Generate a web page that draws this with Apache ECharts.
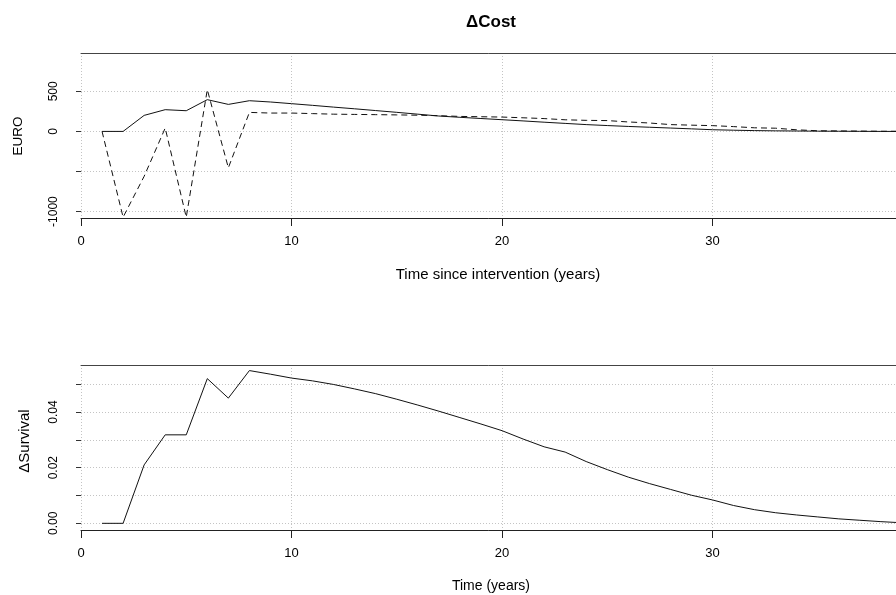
<!DOCTYPE html>
<html><head><meta charset="utf-8">
<script src="https://cdn.jsdelivr.net/npm/echarts@6/dist/echarts.min.js"></script>
<style>html,body{margin:0;padding:0;background:#fff}#c{width:896px;height:595px}</style>
</head><body><div id="c"></div>
<script>
// ---- data ----
const years = [1,2,3,4,5,6,7,8,9,10,11,12,13,14,15,16,17,18,19,20,21,22,23,24,25,26,27,28,29,30,31,32,33,34,35,36,37,38,39,40];
const costSolid = [0,0,200,271,258,396,337,383,367,346,325,303,282,260,238,215,192,176,161,146,131,115,100,85,73,62,52,42,32,21,15,10,7,5,3,2,1,0,0,0];
const costDashed = [0,-1070,-560,42,-1070,521,-454,237,229,229,222,215,212,209,206,202,196,187,183,179,170,160,145,138,135,118,105,85,78,72,60,45,40,20,8,6,4,2,1,0];
const survival = [0,0,0.021,0.0318,0.0318,0.052,0.045,0.0549,0.0536,0.0522,0.0512,0.0499,0.0483,0.0466,0.0446,0.0425,0.0403,0.038,0.0357,0.0333,0.0303,0.0275,0.0256,0.0222,0.0193,0.0166,0.0143,0.0122,0.0101,0.0084,0.0064,0.0049,0.0038,0.0030,0.0023,0.0016,0.0011,0.0006,0.0002,0.0];
const xTicks = [0,10,20,30,40];
const costTicks = [-1000,-500,0,500];
const costTickLabels = [-1000,0,500];
const survTicks = [0,0.01,0.02,0.03,0.04,0.05];
const survTickLabels = [0,0.02,0.04];
const titleText = 'ΔCost';
const costXName = 'Time since intervention (years)';
const costYName = 'EURO';
const survXName = 'Time (years)';
const survYName = 'ΔSurvival';

const FONT = '"Liberation Sans", Arial, sans-serif';
const dotted = {color:'#c4c4c4', width:1, type:[1,2]};

function xAxisMain(gi){
  return {type:'value', gridIndex:gi, min:xTicks[0], max:xTicks[xTicks.length-1], interval:10,
    axisLine:{show:true, onZero:false, lineStyle:{color:'#222', width:1}},
    axisTick:{show:true, length:8, lineStyle:{color:'#222'}},
    axisLabel:{show:true, margin:17, fontSize:13, fontFamily:FONT, color:'#000'},
    splitLine:{show:true, lineStyle:dotted}};
}
function xAxisTop(gi){
  return {type:'value', gridIndex:gi, position:'top', min:xTicks[0], max:xTicks[xTicks.length-1],
    axisLine:{show:true, onZero:false, lineStyle:{color:'#444', width:1}},
    axisTick:{show:false}, axisLabel:{show:false}, splitLine:{show:false}};
}
function yAxis(gi, min, max, ticks, labels, fmt){
  return {type:'value', gridIndex:gi, min:min, max:max,
    axisLine:{show:false},
    axisTick:{show:true, length:5, customValues:ticks, lineStyle:{color:'#333'}},
    axisLabel:{show:true, customValues:labels, rotate:90, margin:21, fontSize:12, fontFamily:FONT, color:'#000', formatter:fmt},
    splitLine:{show:true, lineStyle:dotted}};
}

const chart = echarts.init(document.getElementById('c'), null, {renderer:'canvas'});
chart.setOption({
  animation:false,
  backgroundColor:'#fff',
  grid:[
    {left:81, top:53, width:842, height:165, outerBoundsMode:'none', containLabel:false},
    {left:81, top:365, width:842, height:165, outerBoundsMode:'none', containLabel:false}
  ],
  xAxis:[xAxisMain(0), xAxisMain(1), xAxisTop(0), xAxisTop(1)],
  yAxis:[
    yAxis(0, -1080, 978, costTicks, costTickLabels, v => String(v)),
    yAxis(1, -0.0024, 0.0569, survTicks, survTickLabels, v => Number(v).toFixed(2))
  ],
  series:[
    {type:'line', xAxisIndex:0, yAxisIndex:0, data:years.map((x,i)=>[x,costSolid[i]]), showSymbol:false, lineStyle:{color:'#111', width:1}},
    {type:'line', xAxisIndex:0, yAxisIndex:0, data:years.map((x,i)=>[x,costDashed[i]]), showSymbol:false, lineStyle:{color:'#111', width:1, type:[6,4]}},
    {type:'line', xAxisIndex:1, yAxisIndex:1, data:years.map((x,i)=>[x,survival[i]]), showSymbol:false, lineStyle:{color:'#111', width:1}}
  ],
  graphic:[
    {type:'text', x:491, y:22, style:{text:titleText, fontSize:17, fontWeight:'bold', fontFamily:FONT, fill:'#000', align:'center', verticalAlign:'middle'}},
    {type:'text', x:498, y:275, style:{text:costXName, fontSize:15, fontFamily:FONT, fill:'#000', align:'center', verticalAlign:'middle'}},
    {type:'text', x:18, y:136, rotation:Math.PI/2, style:{text:costYName, fontSize:13.5, fontFamily:FONT, fill:'#000', align:'center', verticalAlign:'middle'}},
    {type:'text', x:491, y:586, style:{text:survXName, fontSize:14, fontFamily:FONT, fill:'#000', align:'center', verticalAlign:'middle'}},
    {type:'text', x:25, y:441, rotation:Math.PI/2, style:{text:survYName, fontSize:15, fontFamily:FONT, fill:'#000', align:'center', verticalAlign:'middle'}}
  ]
});
</script>
</body></html>
